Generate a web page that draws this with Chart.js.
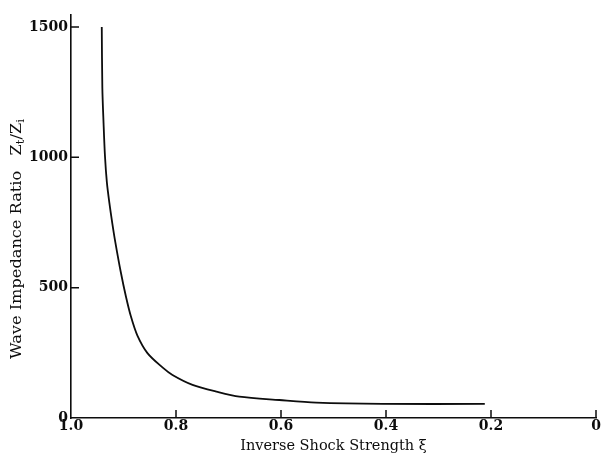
<!DOCTYPE html>
<html>
<head>
<meta charset="utf-8">
<script src="https://cdn.jsdelivr.net/npm/chart.js@4/dist/chart.umd.min.js"></script>
<style>
  html, body { margin: 0; padding: 0; background: #fff; }
  #wrap { width: 603px; height: 453px; }
</style>
</head>
<body>
<div id="wrap"><canvas id="c" width="603" height="453"></canvas></div>
<script>
// Inverse shock strength ξ and the resulting wave impedance ratio Zt/Zi
const xi = [0.9414, 0.9403, 0.9380, 0.9353, 0.9317, 0.9269, 0.9214, 0.9156, 0.9052, 0.8956, 0.8861, 0.8735, 0.8544, 0.8258, 0.8067, 0.7685, 0.7208, 0.6794, 0.6031, 0.5330, 0.4065, 0.2118];
const ratio = [1500, 1266, 1132, 1005, 905, 825, 748, 675, 560, 468, 391, 316, 249, 194, 165, 127, 100, 82, 69, 59, 54, 54];
const xTicks = [1.0, 0.8, 0.6, 0.4, 0.2, 0];
const yTicks = [0, 500, 1000, 1500];

const points = xi.map((x, i) => ({ x: x, y: ratio[i] }));
const serif = "'DejaVu Serif', 'Liberation Serif', serif";
const tickFont = { family: serif, size: 14, weight: 'bold' };
const ink = '#0d0d0d';

// Short tick marks pointing into the plot area, plus the rotated y-axis title
const axisExtras = {
  id: 'axisExtras',
  afterDraw(chart) {
    const { ctx, scales: { x, y } } = chart;
    ctx.save();
    ctx.strokeStyle = ink;
    ctx.lineWidth = 1.5;
    ctx.beginPath();
    yTicks.forEach(v => {
      if (v === 0) return;
      const py = y.getPixelForValue(v);
      ctx.moveTo(x.left, py);
      ctx.lineTo(x.left + 8, py);
    });
    xTicks.forEach(v => {
      if (v === 1.0) return;
      const px = x.getPixelForValue(v);
      ctx.moveTo(px, y.bottom);
      ctx.lineTo(px, y.bottom - 8);
    });
    ctx.stroke();

    // "Wave Impedance Ratio   Zt/Zi" with true subscripts
    const big = '14.5px ' + serif;
    const small = '10.5px ' + serif;
    const parts = [
      { t: 'Wave Impedance Ratio   Z', f: big, dy: 0 },
      { t: 't', f: small, dy: 4 },
      { t: '/Z', f: big, dy: 0 },
      { t: 'i', f: small, dy: 4 }
    ];
    let total = 0;
    parts.forEach(p => { ctx.font = p.f; p.w = ctx.measureText(p.t).width; total += p.w; });
    const stretch = 240 / total;
    ctx.translate(17, 239);
    ctx.rotate(-Math.PI / 2);
    ctx.scale(stretch, 1);
    ctx.fillStyle = ink;
    ctx.textBaseline = 'middle';
    ctx.textAlign = 'left';
    let cx = -total / 2;
    parts.forEach(p => {
      ctx.font = p.f;
      ctx.fillText(p.t, cx, p.dy);
      cx += p.w;
    });
    ctx.restore();
  }
};

new Chart(document.getElementById('c'), {
  type: 'line',
  data: {
    datasets: [{
      data: points,
      borderColor: ink,
      borderWidth: 1.8,
      pointRadius: 0,
      fill: false,
      tension: 0.3
    }]
  },
  options: {
    responsive: false,
    animation: false,
    devicePixelRatio: 1,
    layout: { padding: { left: 0, right: 7, top: 15, bottom: 0 } },
    plugins: { legend: { display: false }, tooltip: { enabled: false } },
    scales: {
      x: {
        type: 'linear',
        reverse: true,
        min: 0,
        max: 1,
        afterBuildTicks: s => { s.ticks = xTicks.map(v => ({ value: v })); },
        afterFit: s => { s.height = 35; },
        grid: { display: false, drawTicks: false },
        border: { display: true, color: ink, width: 1.6 },
        ticks: {
          color: ink,
          padding: 0,
          maxRotation: 0,
          font: tickFont,
          callback: v => (v === 0 ? '0' : v.toFixed(1))
        },
        title: {
          display: true,
          text: 'Inverse Shock Strength ξ',
          color: ink,
          padding: { top: 0, bottom: -2 },
          font: { family: serif, size: 14.5 }
        }
      },
      y: {
        type: 'linear',
        min: 0,
        max: 1546,
        afterBuildTicks: s => { s.ticks = yTicks.map(v => ({ value: v })); },
        afterFit: s => { s.width = 71; },
        grid: { display: false, drawTicks: false },
        border: { display: true, color: ink, width: 1.6 },
        ticks: {
          color: ink,
          padding: 3,
          font: tickFont,
          callback: v => String(v)
        }
      }
    }
  },
  plugins: [axisExtras]
});
</script>
</body>
</html>
